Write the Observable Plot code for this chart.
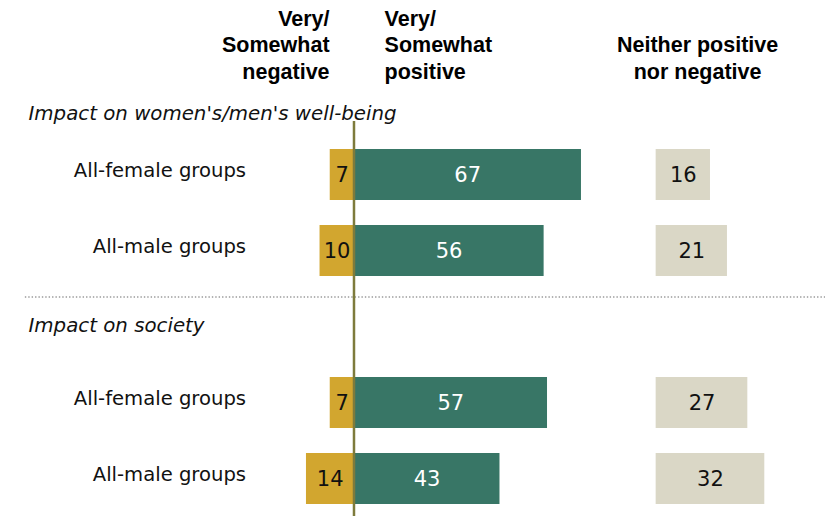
<!DOCTYPE html>
<html>
<head>
<meta charset="utf-8">
<script src="https://cdn.jsdelivr.net/npm/d3@7"></script>
<script src="https://cdn.jsdelivr.net/npm/@observablehq/plot@0.6"></script>
<style>
  html, body { margin: 0; padding: 0; background: #fff; }
  #chart svg { display: block; }
</style>
</head>
<body>
<div id="chart"></div>
<script>
// ---- data ----
const sectionTitles = ["Impact on women's/men's well-being", "Impact on society"];
const categories = ["All-female groups", "All-male groups"];
const negative = [7, 10, 7, 14];   // Very/Somewhat negative
const positive = [67, 56, 57, 43]; // Very/Somewhat positive
const neither  = [16, 21, 27, 32]; // Neither positive nor negative
const columnHeaders = ["Very/\nSomewhat\nnegative", "Very/\nSomewhat\npositive", "Neither positive\nnor negative"];

// ---- build table ----
const rows = [];
const yDomain = [];
sectionTitles.forEach((t, s) => {
  yDomain.push("title" + s);
  categories.forEach((c, k) => {
    const i = s * categories.length + k;
    const key = s + "-" + k;
    yDomain.push(key);
    rows.push({key, label: c, neg: negative[i], pos: positive[i], nei: neither[i]});
  });
});
const rowKeys = rows.map(d => d.key);

const NEITHER_START = 89;
const GOLD = "#D2A62F", TEAL = "#387666", BEIGE = "#DAD7C6", AXIS = "#7E7B3C";
const SANS = "DejaVu Sans";
const BOLD = "Liberation Sans, Arial, sans-serif";

const chart = Plot.plot({
  width: 825,
  height: 516,
  marginLeft: 0,
  marginRight: 0,
  marginTop: 71.5,
  marginBottom: 10.8,
  style: {fontFamily: SANS, background: "#fff"},
  x: {domain: [-104.12, 138.88], axis: null},
  y: {type: "band", domain: yDomain, paddingInner: 0.334, paddingOuter: 0, axis: null},
  marks: [
    // dotted separator between sections
    Plot.ruleY(["title1"], {y: d => d, x1: -96.8, x2: 138.88, dy: -30,
      stroke: "#9a9a9a", strokeWidth: 1.6, strokeDasharray: "1.4,2"}),
    // bars
    Plot.barX(rows, {y: "key", x1: d => -d.neg, x2: 0, fill: GOLD}),
    Plot.barX(rows, {y: "key", x1: 0, x2: d => d.pos, fill: TEAL}),
    Plot.barX(rows, {y: "key", x1: NEITHER_START, x2: d => NEITHER_START + d.nei, fill: BEIGE}),
    // center line
    Plot.ruleX([0], {x: d => d, y1: () => rowKeys[0], y2: () => rowKeys[rowKeys.length - 1],
      insetTop: -28, insetBottom: -12, stroke: AXIS, strokeWidth: 2.5}),
    // value labels
    Plot.text(rows, {y: "key", x: d => -d.neg / 2, text: d => String(d.neg), fill: "#111", fontSize: 21}),
    Plot.text(rows, {y: "key", x: d => d.pos / 2, text: d => String(d.pos), fill: "#fff", fontSize: 21}),
    Plot.text(rows, {y: "key", x: d => NEITHER_START + d.nei / 2, text: d => String(d.nei), fill: "#111", fontSize: 21}),
    // row labels
    Plot.text(rows, {y: "key", x: -31.8, text: "label", textAnchor: "end", dy: -4.5, fill: "#111", fontSize: 19.6}),
    // section titles
    Plot.text([sectionTitles[0]], {y: () => "title0", text: d => d, frameAnchor: "left", dx: 28, dy: 14.5,
      textAnchor: "start", fontStyle: "italic", fontSize: 19.8, fill: "#111"}),
    Plot.text([sectionTitles[1]], {y: () => "title1", text: d => d, frameAnchor: "left", dx: 28, dy: -1,
      textAnchor: "start", fontStyle: "italic", fontSize: 19.8, fill: "#111"}),
    // column headers
    Plot.text([columnHeaders[0]], {x: -7.2, text: d => d, frameAnchor: "top", lineAnchor: "bottom", dy: 6.5,
      textAnchor: "end", fontFamily: BOLD, fontWeight: "bold", fontSize: 21.5, lineHeight: 1.223, fill: "#000"}),
    Plot.text([columnHeaders[1]], {x: 9, text: d => d, frameAnchor: "top", lineAnchor: "bottom", dy: 6.5,
      textAnchor: "start", fontFamily: BOLD, fontWeight: "bold", fontSize: 21.5, lineHeight: 1.223, fill: "#000"}),
    Plot.text([columnHeaders[2]], {x: 101.2, text: d => d, frameAnchor: "top", lineAnchor: "bottom", dy: 6.5,
      textAnchor: "middle", fontFamily: BOLD, fontWeight: "bold", fontSize: 21.5, lineHeight: 1.223, fill: "#000"})
  ]
});
document.getElementById("chart").appendChild(chart);
</script>
</body>
</html>
